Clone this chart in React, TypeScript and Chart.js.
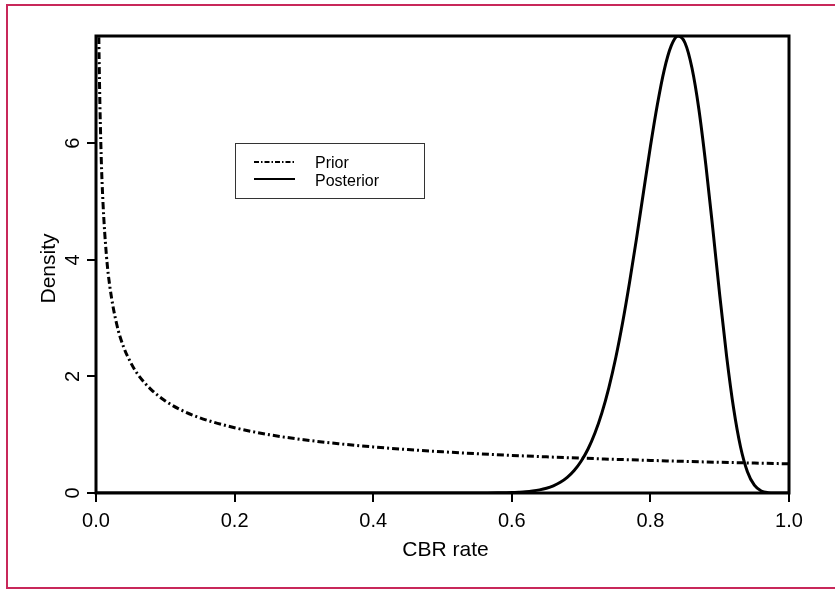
import React, { useEffect, useRef } from "react";
import { Chart, registerables } from "chart.js";

Chart.register(...registerables);

// ---- Data ----
const priorX = [0.001, 0.002, 0.003, 0.004, 0.005, 0.0075, 0.01, 0.015, 0.02, 0.03, 0.04, 0.05, 0.06, 0.08, 0.1, 0.12, 0.15, 0.2, 0.25, 0.3, 0.35, 0.4, 0.45, 0.5, 0.55, 0.6, 0.65, 0.7, 0.75, 0.8, 0.85, 0.9, 0.95, 1.0];
const priorY = [15.8, 11.18, 9.13, 7.91, 7.07, 5.77, 5.0, 4.08, 3.54, 2.89, 2.5, 2.24, 2.04, 1.77, 1.58, 1.44, 1.29, 1.12, 1.0, 0.913, 0.845, 0.79, 0.745, 0.707, 0.674, 0.645, 0.62, 0.598, 0.577, 0.559, 0.542, 0.527, 0.513, 0.5];

const posteriorX = [0, 0.5, 0.55, 0.56, 0.58, 0.6, 0.61, 0.62, 0.63, 0.64, 0.65, 0.66, 0.67, 0.68, 0.69, 0.7, 0.71, 0.72, 0.73, 0.74, 0.75, 0.76, 0.77, 0.78, 0.79, 0.8, 0.81, 0.82, 0.83, 0.84, 0.85, 0.86, 0.87, 0.88, 0.89, 0.9, 0.91, 0.92, 0.93, 0.94, 0.95, 0.96, 0.97, 0.98, 0.99, 1.0];
const posteriorY = [0, 0, 0.0005, 0.001, 0.003, 0.008, 0.014, 0.022, 0.035, 0.054, 0.082, 0.124, 0.184, 0.269, 0.386, 0.545, 0.755, 1.029, 1.375, 1.805, 2.32, 2.928, 3.62, 4.368, 5.16, 5.943, 6.66, 7.26, 7.67, 7.84, 7.72, 7.29, 6.58, 5.63, 4.54, 3.4, 2.345, 1.457, 0.794, 0.366, 0.134, 0.035, 0.006, 0.0005, 0, 0];

const seriesNames = ["Prior", "Posterior"];
const xTitle = "CBR rate";
const yTitle = "Density";
const xMin = 0;
const xMax = 1;
const yMin = 0;
const yMax = 7.84;
const xStep = 0.2;
const yStep = 2;

const FONT = '"Liberation Sans", Arial, Helvetica, sans-serif';
const PRIOR_DASH = [7, 3, 2, 3];

const customDraw = {
  id: "customDraw",
  afterDraw(chart: any) {
    const ctx = chart.ctx as CanvasRenderingContext2D;
    const area = chart.chartArea;
    const xs = chart.scales.x;
    const ys = chart.scales.y;
    ctx.save();
    // plot box
    ctx.strokeStyle = "#000";
    ctx.lineWidth = 3;
    ctx.setLineDash([]);
    ctx.strokeRect(area.left, area.top, area.right - area.left, area.bottom - area.top);

    ctx.fillStyle = "#000";
    // x tick labels
    ctx.font = `20px ${FONT}`;
    ctx.textAlign = "center";
    ctx.textBaseline = "alphabetic";
    xs.ticks.forEach((t: any) => {
      const px = xs.getPixelForValue(t.value);
      ctx.fillText(Number(t.value).toFixed(1), px, area.bottom + 34);
    });
    // y tick labels (rotated)
    ys.ticks.forEach((t: any) => {
      const py = ys.getPixelForValue(t.value);
      ctx.save();
      ctx.translate(area.left - 17, py);
      ctx.rotate(-Math.PI / 2);
      ctx.textAlign = "center";
      ctx.textBaseline = "alphabetic";
      ctx.fillText(String(Math.round(t.value)), 0, 0);
      ctx.restore();
    });
    // axis titles
    ctx.font = `21px ${FONT}`;
    ctx.textAlign = "center";
    ctx.fillText(xTitle, (area.left + area.right) / 2 + 3, area.bottom + 63);
    ctx.save();
    ctx.translate(area.left - 41, (area.top + area.bottom) / 2 + 4);
    ctx.rotate(-Math.PI / 2);
    ctx.fillText(yTitle, 0, 0);
    ctx.restore();

    // legend
    const lx = area.left + 139;
    const ly = area.top + 107;
    ctx.lineWidth = 1;
    ctx.strokeStyle = "#333";
    ctx.strokeRect(lx + 0.5, ly + 0.5, 189, 55);
    ctx.strokeStyle = "#000";
    ctx.lineWidth = 2;
    ctx.setLineDash([5, 2, 1.5, 2]);
    ctx.beginPath();
    ctx.moveTo(lx + 19, ly + 19);
    ctx.lineTo(lx + 60, ly + 19);
    ctx.stroke();
    ctx.setLineDash([]);
    ctx.beginPath();
    ctx.moveTo(lx + 19, ly + 36);
    ctx.lineTo(lx + 60, ly + 36);
    ctx.stroke();
    ctx.font = `16px ${FONT}`;
    ctx.textAlign = "left";
    ctx.fillText(seriesNames[0], lx + 80, ly + 25);
    ctx.fillText(seriesNames[1], lx + 80, ly + 43);
    ctx.restore();
  },
};

export default function App() {
  const ref = useRef<HTMLCanvasElement>(null);
  useEffect(() => {
    if (!ref.current) return;
    const chart = new Chart(ref.current, {
      type: "scatter",
      data: {
        datasets: [
          {
            label: seriesNames[0],
            data: priorX.map((x, i) => ({ x, y: priorY[i] })),
            showLine: true,
            borderColor: "#000",
            borderWidth: 3,
            borderDash: PRIOR_DASH,
            pointRadius: 0,
            cubicInterpolationMode: "monotone",
            clip: 0,
          } as any,
          {
            label: seriesNames[1],
            data: posteriorX.map((x, i) => ({ x, y: posteriorY[i] })),
            showLine: true,
            borderColor: "#000",
            borderWidth: 3,
            pointRadius: 0,
            cubicInterpolationMode: "monotone",
            clip: 0,
          } as any,
        ],
      },
      options: {
        animation: false,
        responsive: false,
        devicePixelRatio: 1,
        layout: { padding: { left: 0, right: 46, top: 36, bottom: 0 } },
        plugins: { legend: { display: false }, tooltip: { enabled: false } },
        scales: {
          x: {
            type: "linear",
            min: xMin,
            max: xMax,
            afterFit: (s: any) => {
              s.height = 96;
            },
            ticks: { stepSize: xStep, display: false, includeBounds: false },
            grid: { drawOnChartArea: false, color: "#000", lineWidth: 2, tickLength: 9 },
            border: { display: false },
          },
          y: {
            type: "linear",
            min: yMin,
            max: yMax,
            afterFit: (s: any) => {
              s.width = 96;
            },
            ticks: { stepSize: yStep, display: false, includeBounds: false },
            grid: { drawOnChartArea: false, color: "#000", lineWidth: 2, tickLength: 9 },
            border: { display: false },
          },
        },
      },
      plugins: [customDraw],
    });
    return () => chart.destroy();
  }, []);

  return (
    <div style={{ position: "fixed", left: 0, top: 0, width: 835, height: 589, background: "#fff", overflow: "hidden" }}>
      <canvas ref={ref} width={835} height={589} style={{ position: "absolute", left: 0, top: 0, width: 835, height: 589 }} />
      <div
        style={{
          position: "absolute",
          left: 6,
          top: 4,
          width: 900,
          height: 585,
          boxSizing: "border-box",
          border: "2px solid #c8285a",
          pointerEvents: "none",
        }}
      />
    </div>
  );
}
